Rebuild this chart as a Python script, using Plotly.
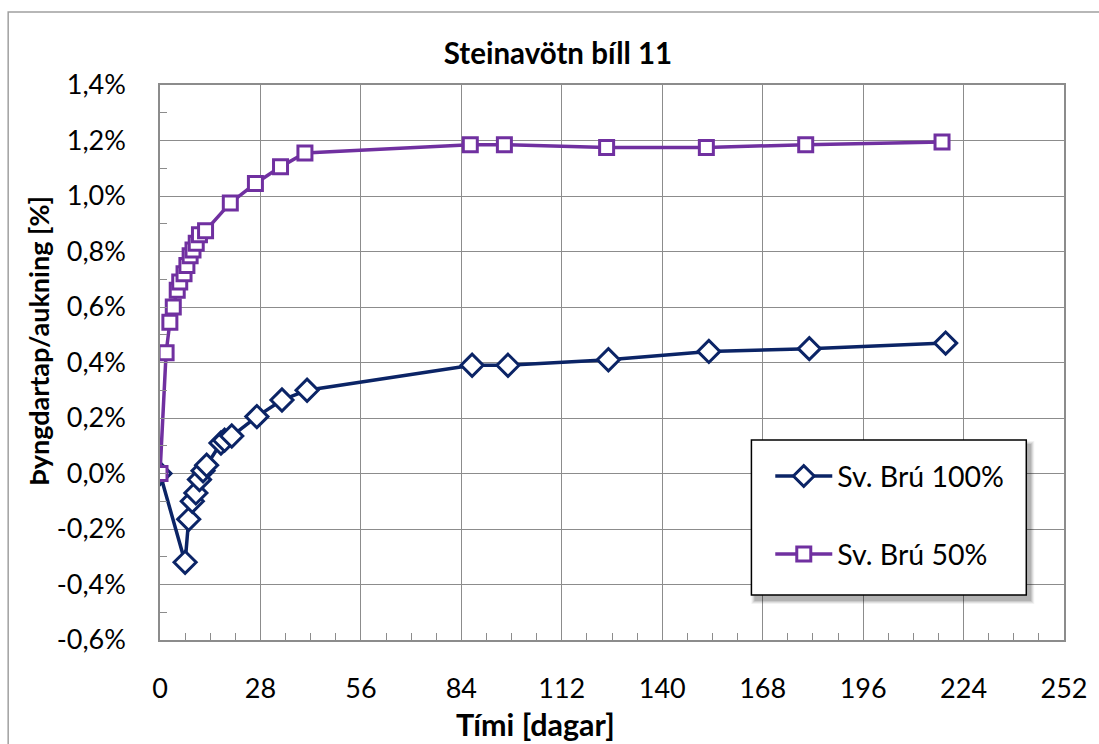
import plotly.graph_objects as go

# ---- data ----
days_100 = [0, 7, 8, 9, 10, 11, 12, 13, 17, 18, 20, 27, 34, 41, 87, 97, 125, 153, 181, 219]
vals_100 = [0.0, -0.32, -0.165, -0.10, -0.07, -0.022, 0.01, 0.03, 0.11, 0.12, 0.135, 0.205, 0.265, 0.30,
            0.39, 0.39, 0.41, 0.44, 0.45, 0.47]

days_50 = [0, 1.7, 2.75, 3.7, 4.8, 5.5, 6.7, 7.5, 8.4, 9.2, 10.1, 11, 12.7, 19.6, 26.6, 33.6, 40.4,
           86.5, 96, 124.5, 152.3, 180, 218]
vals_50 = [0.0, 0.435, 0.545, 0.60, 0.66, 0.69, 0.72, 0.75, 0.785, 0.805, 0.83, 0.86, 0.875, 0.975,
           1.045, 1.105, 1.155, 1.185, 1.185, 1.175, 1.175, 1.185, 1.195]

series_names = ["Sv. Brú 100%", "Sv. Brú 50%"]
x_ticks = [0, 28, 56, 84, 112, 140, 168, 196, 224, 252]
y_ticks = [-0.6, -0.4, -0.2, 0.0, 0.2, 0.4, 0.6, 0.8, 1.0, 1.2, 1.4]
y_ticklabels = ["-0,6%", "-0,4%", "-0,2%", "0,0%", "0,2%", "0,4%", "0,6%", "0,8%", "1,0%", "1,2%", "1,4%"]
title_text = "Steinavötn bíll 11"
x_title = "Tími [dagar]"
y_title = "Þyngdartap/aukning [%]"

NAVY = "#0B2466"
PURPLE = "#7030A0"
GRID = "#8C8C8C"
FONT = "Lato"

fig = go.Figure()
fig.add_trace(go.Scatter(
    x=days_100, y=vals_100, mode="lines+markers", name=series_names[0], legendgroup="a",
    line=dict(color=NAVY, width=3.5),
    marker=dict(symbol="diamond", size=17, color="white", line=dict(color=NAVY, width=3)),
))
fig.add_trace(go.Scatter(
    x=days_50, y=vals_50, mode="lines+markers", name=series_names[1], legendgroup="b",
    line=dict(color=PURPLE, width=3.5),
    marker=dict(symbol="square", size=14, color="white", line=dict(color=PURPLE, width=3)),
))

L, R, T, B = 160, 28, 85, 104
W, H = 1099, 744
pw, ph = W - L - R, H - T - B

def px_x(p):
    return (p - L) / pw

def px_y(p):
    return (H - B - p) / ph

shapes = [
    # chart area border
    dict(type="rect", xref="paper", yref="paper", x0=px_x(7), x1=px_x(1110), y0=px_y(755), y1=px_y(12),
         line=dict(color="#A0A0A0", width=1.5), fillcolor="rgba(0,0,0,0)", layer="below"),
]
# soft legend shadow
for i, a in enumerate([0.05, 0.07, 0.09, 0.12]):
    g = 4 - i
    shapes.append(dict(type="rect", xref="paper", yref="paper",
                       x0=px_x(756 + 4 - g), x1=px_x(1033 + 4 + g),
                       y0=px_y(595 + 5 + g), y1=px_y(440 + 5 - g),
                       line=dict(width=0), fillcolor=f"rgba(0,0,0,{a})", layer="above"))
# legend box
shapes.append(dict(type="rect", xref="paper", yref="paper", x0=px_x(756), x1=px_x(1033),
                   y0=px_y(595), y1=px_y(440), line=dict(color="black", width=1.5),
                   fillcolor="white", layer="above"))

fig.update_layout(
    width=W, height=H,
    margin=dict(l=L, r=R, t=T, b=B, pad=0),
    paper_bgcolor="white", plot_bgcolor="white",
    font=dict(family=FONT, color="black", size=27),
    title=dict(text="<b>" + title_text + "</b>", x=558 / W, xanchor="center", y=1 - 54 / H,
               yanchor="middle", font=dict(size=29.5, family=FONT)),
    showlegend=True,
    legend=dict(x=px_x(775), y=px_y(451), xanchor="left", yanchor="top",
                bgcolor="rgba(0,0,0,0)", borderwidth=0,
                font=dict(size=28.5, family=FONT), traceorder="grouped", tracegroupgap=38,
                itemwidth=57),
    shapes=shapes,
    annotations=[
        dict(text="<b>" + x_title + "</b>", xref="paper", yref="paper", x=px_x(538), y=px_y(724),
             xanchor="center", yanchor="middle", showarrow=False, font=dict(size=30.5, family=FONT)),
        dict(text="<b>" + y_title + "</b>", xref="paper", yref="paper", x=px_x(37), y=px_y(341),
             xanchor="center", yanchor="middle", textangle=-90, showarrow=False,
             font=dict(size=27, family=FONT)),
    ],
)

fig.update_xaxes(
    range=[0, 252], tickvals=x_ticks, ticktext=[str(v) for v in x_ticks],
    showgrid=True, gridcolor=GRID, gridwidth=1,
    zeroline=False, showline=True, linecolor=GRID, linewidth=1.5, mirror=True,
    ticks="inside", ticklen=0, tickcolor=GRID,
    minor=dict(dtick=7, ticks="inside", ticklen=7, tickcolor=GRID, showgrid=False),
    tickfont=dict(size=27, family=FONT), ticklabelstandoff=24,
)
fig.update_yaxes(
    range=[-0.6, 1.4], tickvals=y_ticks, ticktext=y_ticklabels,
    showgrid=True, gridcolor=GRID, gridwidth=1,
    zeroline=False, showline=True, linecolor=GRID, linewidth=1.5, mirror=True,
    ticks="inside", ticklen=0, tickcolor=GRID,
    minor=dict(dtick=0.1, tick0=0, ticks="inside", ticklen=7, tickcolor=GRID, showgrid=False),
    tickfont=dict(size=27, family=FONT), ticklabelstandoff=27,
)

fig.write_html("out.html")
